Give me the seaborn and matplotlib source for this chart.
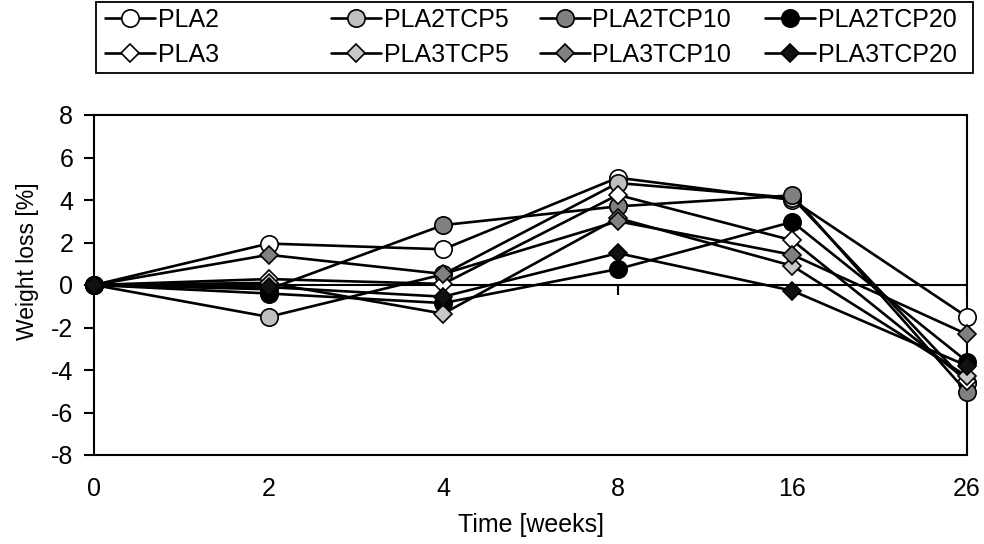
import matplotlib
matplotlib.use("Agg")
import matplotlib.pyplot as plt
from matplotlib.patches import Rectangle
import seaborn as sns
import pandas as pd

sns.set_theme(style="white")
plt.rcParams["font.family"] = ["Liberation Sans", "DejaVu Sans"]

# Sampling times (weeks) shown as evenly spaced categories
weeks = ["0", "2", "4", "8", "16", "26"]

# Weight loss [%] per formulation
pla2 = [0.0, 1.95, 1.68, 5.05, 4.0, -1.5]
pla2tcp5 = [0.0, -1.5, 0.5, 4.8, 4.1, -4.6]
pla2tcp10 = [0.0, -0.2, 2.82, 3.7, 4.22, -5.05]
pla2tcp20 = [0.0, -0.4, -0.85, 0.75, 2.97, -3.6]
pla3 = [0.0, 0.28, 0.05, 4.24, 2.1, -4.5]
pla3tcp5 = [0.0, 0.1, -1.35, 3.15, 0.9, -4.3]
pla3tcp10 = [0.0, 1.42, 0.52, 3.0, 1.42, -2.32]
pla3tcp20 = [0.0, -0.1, -0.55, 1.5, -0.27, -3.8]

series_names = ["PLA2", "PLA2TCP5", "PLA2TCP10", "PLA2TCP20",
                "PLA3", "PLA3TCP5", "PLA3TCP10", "PLA3TCP20"]
series_values = [pla2, pla2tcp5, pla2tcp10, pla2tcp20,
                 pla3, pla3tcp5, pla3tcp10, pla3tcp20]

# Marker shape and fill for each formulation
marker_shapes = ["o", "o", "o", "o", "D", "D", "D", "D"]
marker_fills = ["white", "#c0c0c0", "#808080", "black",
                "white", "#c8c8c8", "#808080", "#111111"]

FS = 18

fig = plt.figure(figsize=(9.84, 5.44), dpi=100)
ax = fig.add_axes([94 / 984, 1 - 455 / 544, 873 / 984, 340 / 544])

pos = list(range(len(weeks)))
for name, vals, mk, fc in zip(series_names, series_values, marker_shapes, marker_fills):
    df = pd.DataFrame({"pos": pos, "loss": vals})
    sns.lineplot(data=df, x="pos", y="loss", ax=ax, color="black", lw=1.9,
                 marker=mk, markersize=12.5 if mk == "o" else 9.5,
                 markerfacecolor=fc, markeredgecolor="black",
                 markeredgewidth=1.2, label=name, legend=False, clip_on=False,
                 zorder=3)

# Zero reference line with category tick marks
ax.axhline(0, color="black", lw=1.5, zorder=1)
ax.plot(pos[1:], [0] * (len(pos) - 1), ls="", marker=3, ms=7, mew=1.5,
        color="black", zorder=1)

ax.set_xlim(0, len(weeks) - 1)
ax.set_ylim(-8, 8)
ax.set_xticks(pos)
ax.set_xticklabels(weeks)
ax.set_yticks(range(-8, 9, 2))
ax.set_yticklabels([str(v) for v in range(-8, 9, 2)])
ax.tick_params(axis="x", length=0, pad=16, labelsize=FS, colors="black")
ax.tick_params(axis="y", length=7, width=1.5, direction="out", pad=8,
               labelsize=FS, colors="black", left=True)
for sp in ax.spines.values():
    sp.set_color("black")
    sp.set_linewidth(1.5)

ax.set_xlabel("Time [weeks]", fontsize=FS, color="black")
ax.set_ylabel("Weight loss [%]", fontsize=16.5, color="black")
ax.xaxis.set_label_coords(0.5, -0.17)
ax.yaxis.set_label_coords(-0.063, 0.57)

# Legend: framed box at the top, two rows by four columns
handles = ax.get_lines()[:8]
col_x = [102, 328, 537, 762]
for c in range(4):
    leg = fig.legend([handles[c], handles[c + 4]],
                     [series_names[c], series_names[c + 4]],
                     loc="upper left",
                     bbox_to_anchor=(col_x[c] / 984, 1 - 5 / 544),
                     frameon=False, fontsize=FS, handlelength=2.0,
                     handletextpad=0.1, borderpad=0.12, borderaxespad=0,
                     labelspacing=0.42)
    for t in leg.get_texts():
        t.set_color("black")
fig.add_artist(Rectangle((96 / 984, 1 - 73 / 544), 877 / 984, 71 / 544,
                         transform=fig.transFigure, fill=False,
                         edgecolor="black", lw=1.3))

fig.savefig("out.png", dpi=100)
